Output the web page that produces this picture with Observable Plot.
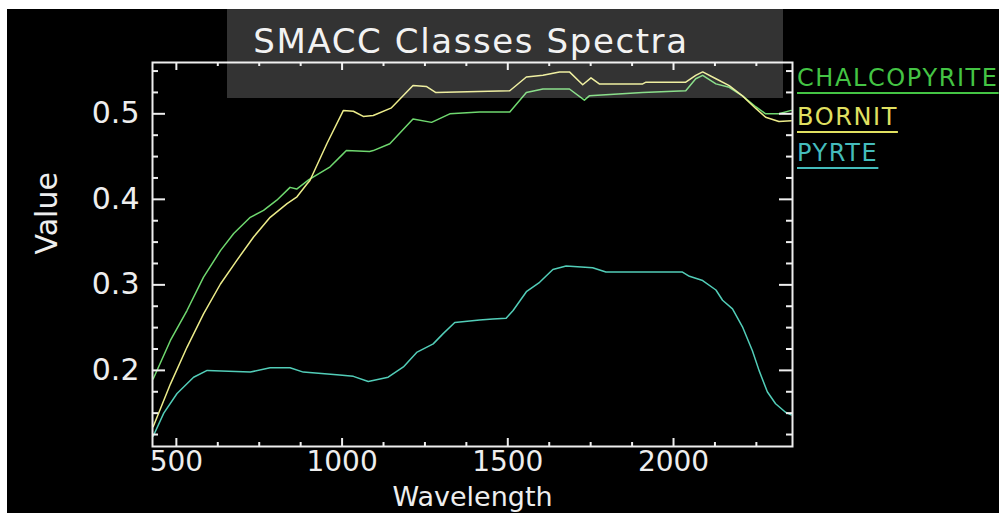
<!DOCTYPE html>
<html>
<head>
<meta charset="utf-8">
<script src="https://cdn.jsdelivr.net/npm/d3@7"></script>
<script src="https://cdn.jsdelivr.net/npm/@observablehq/plot@0.6"></script>
<style>
html, body { margin: 0; padding: 0; background: #fff; }
#wrap { position: absolute; left: 7px; top: 9px; width: 992px; height: 504px; background: #000; overflow: hidden; font-family: "DejaVu Sans", sans-serif; }
#wrap svg { position: absolute; left: 0; top: 0; }
#shade { position: absolute; left: 220px; top: 0; width: 556px; height: 89px; background: rgba(255,255,255,0.2); }
#title { position: absolute; left: 0; width: 928px; text-align: center; top: 15px; font-size: 34px; line-height: 34px; letter-spacing: 1.6px; color: #f2f2f2; white-space: nowrap; }
.leg { position: absolute; left: 790px; font-size: 24px; line-height: 24px; letter-spacing: 1.6px; white-space: nowrap;
       text-decoration: underline; text-decoration-thickness: 2px; text-underline-offset: 6px; }
</style>
</head>
<body>
<div id="wrap"></div>
<script>
// ---- data ----
const seriesNames = ["CHALCOPYRITE", "BORNIT", "PYRTE"];
const seriesColors = ["#6fd86f", "#ecec8a", "#52cdb8"];
const legendColors = ["#44c444", "#e0e060", "#44bcbc"];

const chalcoWl  = [430, 482, 532, 582, 633, 673, 723, 763, 803, 843, 863, 900, 964, 1000, 1013, 1083, 1094, 1144, 1214, 1270, 1325, 1415, 1506, 1556, 1606, 1686, 1731, 1746, 1907, 2037, 2067, 2088, 2128, 2168, 2208, 2249, 2278, 2318, 2355];
const chalcoVal = [0.190, 0.235, 0.270, 0.309, 0.340, 0.360, 0.379, 0.387, 0.399, 0.414, 0.412, 0.423, 0.438, 0.452, 0.457, 0.456, 0.457, 0.465, 0.494, 0.490, 0.500, 0.502, 0.502, 0.525, 0.529, 0.529, 0.516, 0.521, 0.525, 0.527, 0.541, 0.545, 0.535, 0.531, 0.521, 0.508, 0.500, 0.500, 0.504];

const bornitWl  = [430, 482, 532, 582, 633, 683, 733, 783, 834, 864, 894, 903, 954, 1004, 1034, 1064, 1094, 1149, 1214, 1254, 1282, 1506, 1556, 1606, 1656, 1686, 1726, 1751, 1776, 1907, 1917, 2037, 2067, 2088, 2128, 2168, 2208, 2249, 2278, 2318, 2355];
const bornitVal = [0.134, 0.184, 0.227, 0.266, 0.301, 0.329, 0.356, 0.379, 0.395, 0.403, 0.418, 0.422, 0.465, 0.504, 0.503, 0.497, 0.498, 0.507, 0.533, 0.532, 0.525, 0.527, 0.543, 0.545, 0.549, 0.549, 0.534, 0.542, 0.535, 0.535, 0.537, 0.537, 0.545, 0.549, 0.541, 0.533, 0.521, 0.506, 0.496, 0.491, 0.492];

const pyriteWl  = [430, 462, 502, 552, 593, 723, 783, 843, 883, 984, 1034, 1079, 1139, 1185, 1225, 1275, 1305, 1340, 1415, 1455, 1495, 1516, 1556, 1596, 1636, 1676, 1756, 1796, 2027, 2048, 2088, 2128, 2148, 2178, 2208, 2238, 2258, 2283, 2308, 2338, 2355];
const pyriteVal = [0.123, 0.150, 0.173, 0.192, 0.200, 0.198, 0.203, 0.203, 0.198, 0.195, 0.193, 0.187, 0.192, 0.204, 0.221, 0.231, 0.243, 0.256, 0.259, 0.260, 0.261, 0.270, 0.292, 0.303, 0.318, 0.322, 0.320, 0.315, 0.315, 0.310, 0.305, 0.294, 0.282, 0.272, 0.251, 0.223, 0.200, 0.175, 0.161, 0.151, 0.148];

const xMajor = [500, 1000, 1500, 2000];
const xMinor = [625, 750, 875, 1125, 1250, 1375, 1625, 1750, 1875, 2125, 2250];
const yMajor = [0.2, 0.3, 0.4, 0.5];
const yMinor = [0.125, 0.15, 0.175, 0.225, 0.25, 0.275, 0.325, 0.35, 0.375, 0.425, 0.45, 0.475, 0.525, 0.55];

const titleText = "SMACC Classes Spectra";
const xLabel = "Wavelength";
const yLabel = "Value";

// ---- build table ----
const rows = [];
[[pyriteWl, pyriteVal, "PYRTE"], [chalcoWl, chalcoVal, "CHALCOPYRITE"], [bornitWl, bornitVal, "BORNIT"]]
  .forEach(([wl, val, name]) => wl.forEach((w, i) => rows.push({series: name, wl: w, v: val[i]})));

const W = 992, H = 504;
const mL = 145, mR = 207, mT = 53, mB = 67;
const innerW = W - mL - mR, innerH = H - mT - mB;
const ink = "#eeeeee";

const chart = Plot.plot({
  width: W, height: H,
  marginLeft: mL, marginRight: mR, marginTop: mT, marginBottom: mB,
  style: {background: "transparent", color: ink, fontFamily: "DejaVu Sans, sans-serif", overflow: "visible"},
  x: {domain: [428, 2359]},
  y: {domain: [0.111, 0.56]},
  color: {domain: seriesNames, range: seriesColors},
  marks: [
    Plot.line(rows, {x: "wl", y: "v", z: "series", stroke: "series", strokeWidth: 1.5}),
    Plot.frame({stroke: ink, strokeWidth: 2}),
    // inward ticks, bottom & top
    Plot.ruleX(xMajor, {x: d => d, insetTop: innerH - 8, stroke: ink, strokeWidth: 2}),
    Plot.ruleX(xMinor, {x: d => d, insetTop: innerH - 4, stroke: ink, strokeWidth: 2}),
    Plot.ruleX(xMajor, {x: d => d, insetBottom: innerH - 8, stroke: ink, strokeWidth: 2}),
    Plot.ruleX(xMinor, {x: d => d, insetBottom: innerH - 4, stroke: ink, strokeWidth: 2}),
    // inward ticks, left & right
    Plot.ruleY(yMajor, {y: d => d, insetRight: innerW - 13, stroke: ink, strokeWidth: 2}),
    Plot.ruleY(yMinor, {y: d => d, insetRight: innerW - 6, stroke: ink, strokeWidth: 2}),
    Plot.ruleY(yMajor, {y: d => d, insetLeft: innerW - 13, stroke: ink, strokeWidth: 2}),
    Plot.ruleY(yMinor, {y: d => d, insetLeft: innerW - 6, stroke: ink, strokeWidth: 2}),
    Plot.axisX(xMajor, {tickSize: 0, tickPadding: 5, fontSize: 28, fill: ink, tickFormat: "d", label: null}),
    Plot.axisY(yMajor, {tickSize: 0, tickPadding: 13, fontSize: 30, fill: ink, tickFormat: ".1f", label: null}),
    Plot.text([xLabel], {frameAnchor: "bottom", dy: 59, fontSize: 27, fill: ink}),
    Plot.text([yLabel], {frameAnchor: "left", dx: -105, rotate: -90, fontSize: 30, fill: ink})
  ]
});

const wrap = document.getElementById("wrap");
wrap.appendChild(chart);

const shade = document.createElement("div");
shade.id = "shade";
wrap.appendChild(shade);

const title = document.createElement("div");
title.id = "title";
title.textContent = titleText;
wrap.appendChild(title);

const legTops = [57, 96, 132];
seriesNames.forEach((name, i) => {
  const d = document.createElement("div");
  d.className = "leg";
  d.style.top = legTops[i] + "px";
  d.style.color = legendColors[i];
  d.textContent = name;
  wrap.appendChild(d);
});
</script>
</body>
</html>
